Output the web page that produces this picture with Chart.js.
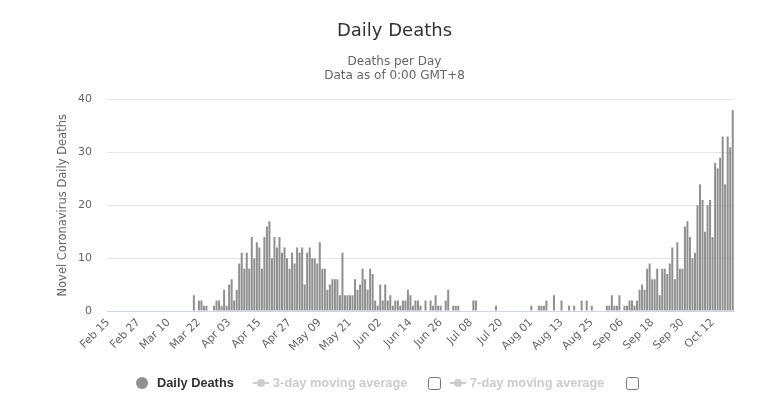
<!DOCTYPE html>
<html>
<head>
<meta charset="utf-8">
<title>Daily Deaths</title>
<script src="https://cdn.jsdelivr.net/npm/chart.js@4.4.0/dist/chart.umd.min.js"></script>
<style>
body { margin: 0; background: #fff; }
#wrap { position: relative; width: 777px; height: 413px; }
.leg { position: absolute; top: 376px; font-family: "Liberation Sans", Arial, sans-serif; font-size: 12.8px; font-weight: bold; line-height: 14px; white-space: nowrap; color: #ccc; }
.leg.on { color: #333; cursor: pointer; }
.dot { position: absolute; top: 377px; left: 136px; width: 12px; height: 12px; border-radius: 50%; background: #909090; }
.sym { position: absolute; top: 382px; width: 16px; height: 2px; background: #ccc; }
.sym::after { content: ""; position: absolute; left: 4px; top: -3px; width: 8px; height: 8px; border-radius: 50%; background: #ccc; }
.box { position: absolute; top: 377px; width: 13px; height: 13px; margin: 0; }
</style>
</head>
<body>
<div id="wrap">
  <canvas id="deathsChart" width="777" height="413"></canvas>
  <span class="dot"></span>
  <span class="leg on" id="legDeaths" style="left:157px">Daily Deaths</span>
  <span class="sym" style="left:253px"></span>
  <span class="leg" style="left:273px">3-day moving average</span>
  <input class="box" type="checkbox" style="left:428px">
  <span class="sym" style="left:450px"></span>
  <span class="leg" style="left:470px">7-day moving average</span>
  <input class="box" type="checkbox" style="left:626px">
</div>
<script>
// Fechas: del 15 de febrero al 20 de octubre (2020)
const startDate = Date.UTC(2020, 1, 15);
const numDays = 249;
const monthNames = ["Jan", "Feb", "Mar", "Apr", "May", "Jun", "Jul", "Aug", "Sep", "Oct", "Nov", "Dec"];

// Etiquetas visibles del eje X (cada 12 días)
const tickLabels = ["Feb 15", "Feb 27", "Mar 10", "Mar 22", "Apr 03", "Apr 15", "Apr 27",
    "May 09", "May 21", "Jun 02", "Jun 14", "Jun 26", "Jul 08", "Jul 20", "Aug 01",
    "Aug 13", "Aug 25", "Sep 06", "Sep 18", "Sep 30", "Oct 12"];

// Muertes diarias
const dailyDeaths = [
    0, 0, 0, 0, 0, 0, 0, 0, 0, 0, 0, 0, 0, 0, 0, 0, 0,
    0, 0, 0, 0, 0, 0, 0, 0, 0, 0, 0, 0, 0, 0, 0, 0, 0,
    3, 0, 2, 2, 1, 1, 0, 0, 1, 2, 2, 1, 4, 1, 5, 6, 2, 4, 9, 11,
    8, 11, 8, 14, 10, 13, 12, 8, 14, 16, 17,
    10, 14, 12, 14, 11, 12, 10, 8, 11, 9, 12, 11, 12, 5, 11, 12, 10, 10, 9, 13,
    8, 8, 4, 5, 6, 6, 6, 3, 11, 3, 3, 3, 3, 6, 4, 5, 8, 6, 4,
    8, 7, 2, 1, 5, 2, 5, 2, 3, 1, 2, 2, 1, 2, 2, 4, 3, 1, 2, 2,
    1, 0, 2, 0, 2, 1, 3, 1, 1, 0, 2, 4, 0, 1, 1, 1, 0,
    0, 0, 0, 0, 2, 2, 0, 0, 0, 0, 0, 0, 0, 1,
    0, 0, 0, 0, 0, 0, 0, 0, 0, 0, 0, 0, 0,
    1, 0, 0, 1, 1, 1, 2, 0, 0, 3, 0, 0, 2, 0, 0, 1, 0, 1, 0, 0, 2, 0, 2, 0,
    1, 0, 0, 0, 0, 0, 1, 1, 3, 1, 1, 3, 0, 1, 1, 2, 2, 1, 2, 4,
    5, 4, 8, 9, 6, 6, 8, 3, 8, 8, 7, 9, 12, 6, 13, 8, 8, 16, 17, 14,
    10, 11, 20, 24, 21, 15, 20, 21, 14, 28, 27, 29, 33, 24, 33, 31, 38
];

// Construir las categorías (fechas)
const categories = [];
for (let i = 0; i < numDays; i++) {
    const d = new Date(startDate + i * 86400000);
    const day = String(d.getUTCDate()).padStart(2, "0");
    categories.push(monthNames[d.getUTCMonth()] + " " + day);
}

const baseFont = "'DejaVu Sans', Verdana, sans-serif";

const ctx = document.getElementById("deathsChart").getContext("2d");
const deathsChart = new Chart(ctx, {
    type: "bar",
    data: {
        labels: categories,
        datasets: [{
            label: "Daily Deaths",
            data: dailyDeaths,
            backgroundColor: "#909090",
            borderWidth: 0,
            barPercentage: 0.8,
            categoryPercentage: 1.0,
        }],
    },
    options: {
        responsive: false,
        animation: false,
        layout: {
            padding: { left: 55, right: 43, top: 0, bottom: 0 },
        },
        plugins: {
            legend: { display: false },
            tooltip: { enabled: true },
            title: {
                display: true,
                text: "Daily Deaths",
                color: "#333",
                font: { family: baseFont, size: 18, weight: "normal" },
                padding: { top: 21, bottom: 12 },
            },
            subtitle: {
                display: true,
                text: ["Deaths per Day", "Data as of 0:00 GMT+8"],
                color: "#666",
                font: { family: baseFont, size: 12, lineHeight: "14px" },
                padding: { top: 0, bottom: 17 },
            },
        },
        scales: {
            x: {
                grid: { display: false, drawTicks: false },
                border: { display: true, color: "#ccd6eb" },
                ticks: {
                    autoSkip: false,
                    maxRotation: 45,
                    minRotation: 45,
                    padding: 5,
                    color: "#666",
                    font: { family: baseFont, size: 11 },
                    callback: function (value, index) {
                        const c = categories[index];
                        return tickLabels.includes(c) ? c : "";
                    },
                },
                afterFit: function (scale) { scale.height = 102; },
            },
            y: {
                min: 0,
                max: 40,
                ticks: {
                    stepSize: 10,
                    padding: 15,
                    color: "#666",
                    font: { family: baseFont, size: 11 },
                },
                grid: {
                    drawTicks: false,
                    color: function (c) { return c.tick.value === 0 ? "rgba(0,0,0,0)" : "#e6e6e6"; },
                },
                border: { display: false },
                title: {
                    display: true,
                    text: "Novel Coronavirus Daily Deaths",
                    color: "#666",
                    font: { family: baseFont, size: 11.5 },
                    padding: { top: 1, bottom: 0 },
                },
                afterFit: function (scale) { scale.width = 52; },
            },
        },
    },
});

// Mostrar u ocultar la serie al hacer clic en la leyenda
document.getElementById("legDeaths").addEventListener("click", () => {
    const meta = deathsChart.getDatasetMeta(0);
    meta.hidden = !meta.hidden;
    deathsChart.update();
});
</script>
</body>
</html>
